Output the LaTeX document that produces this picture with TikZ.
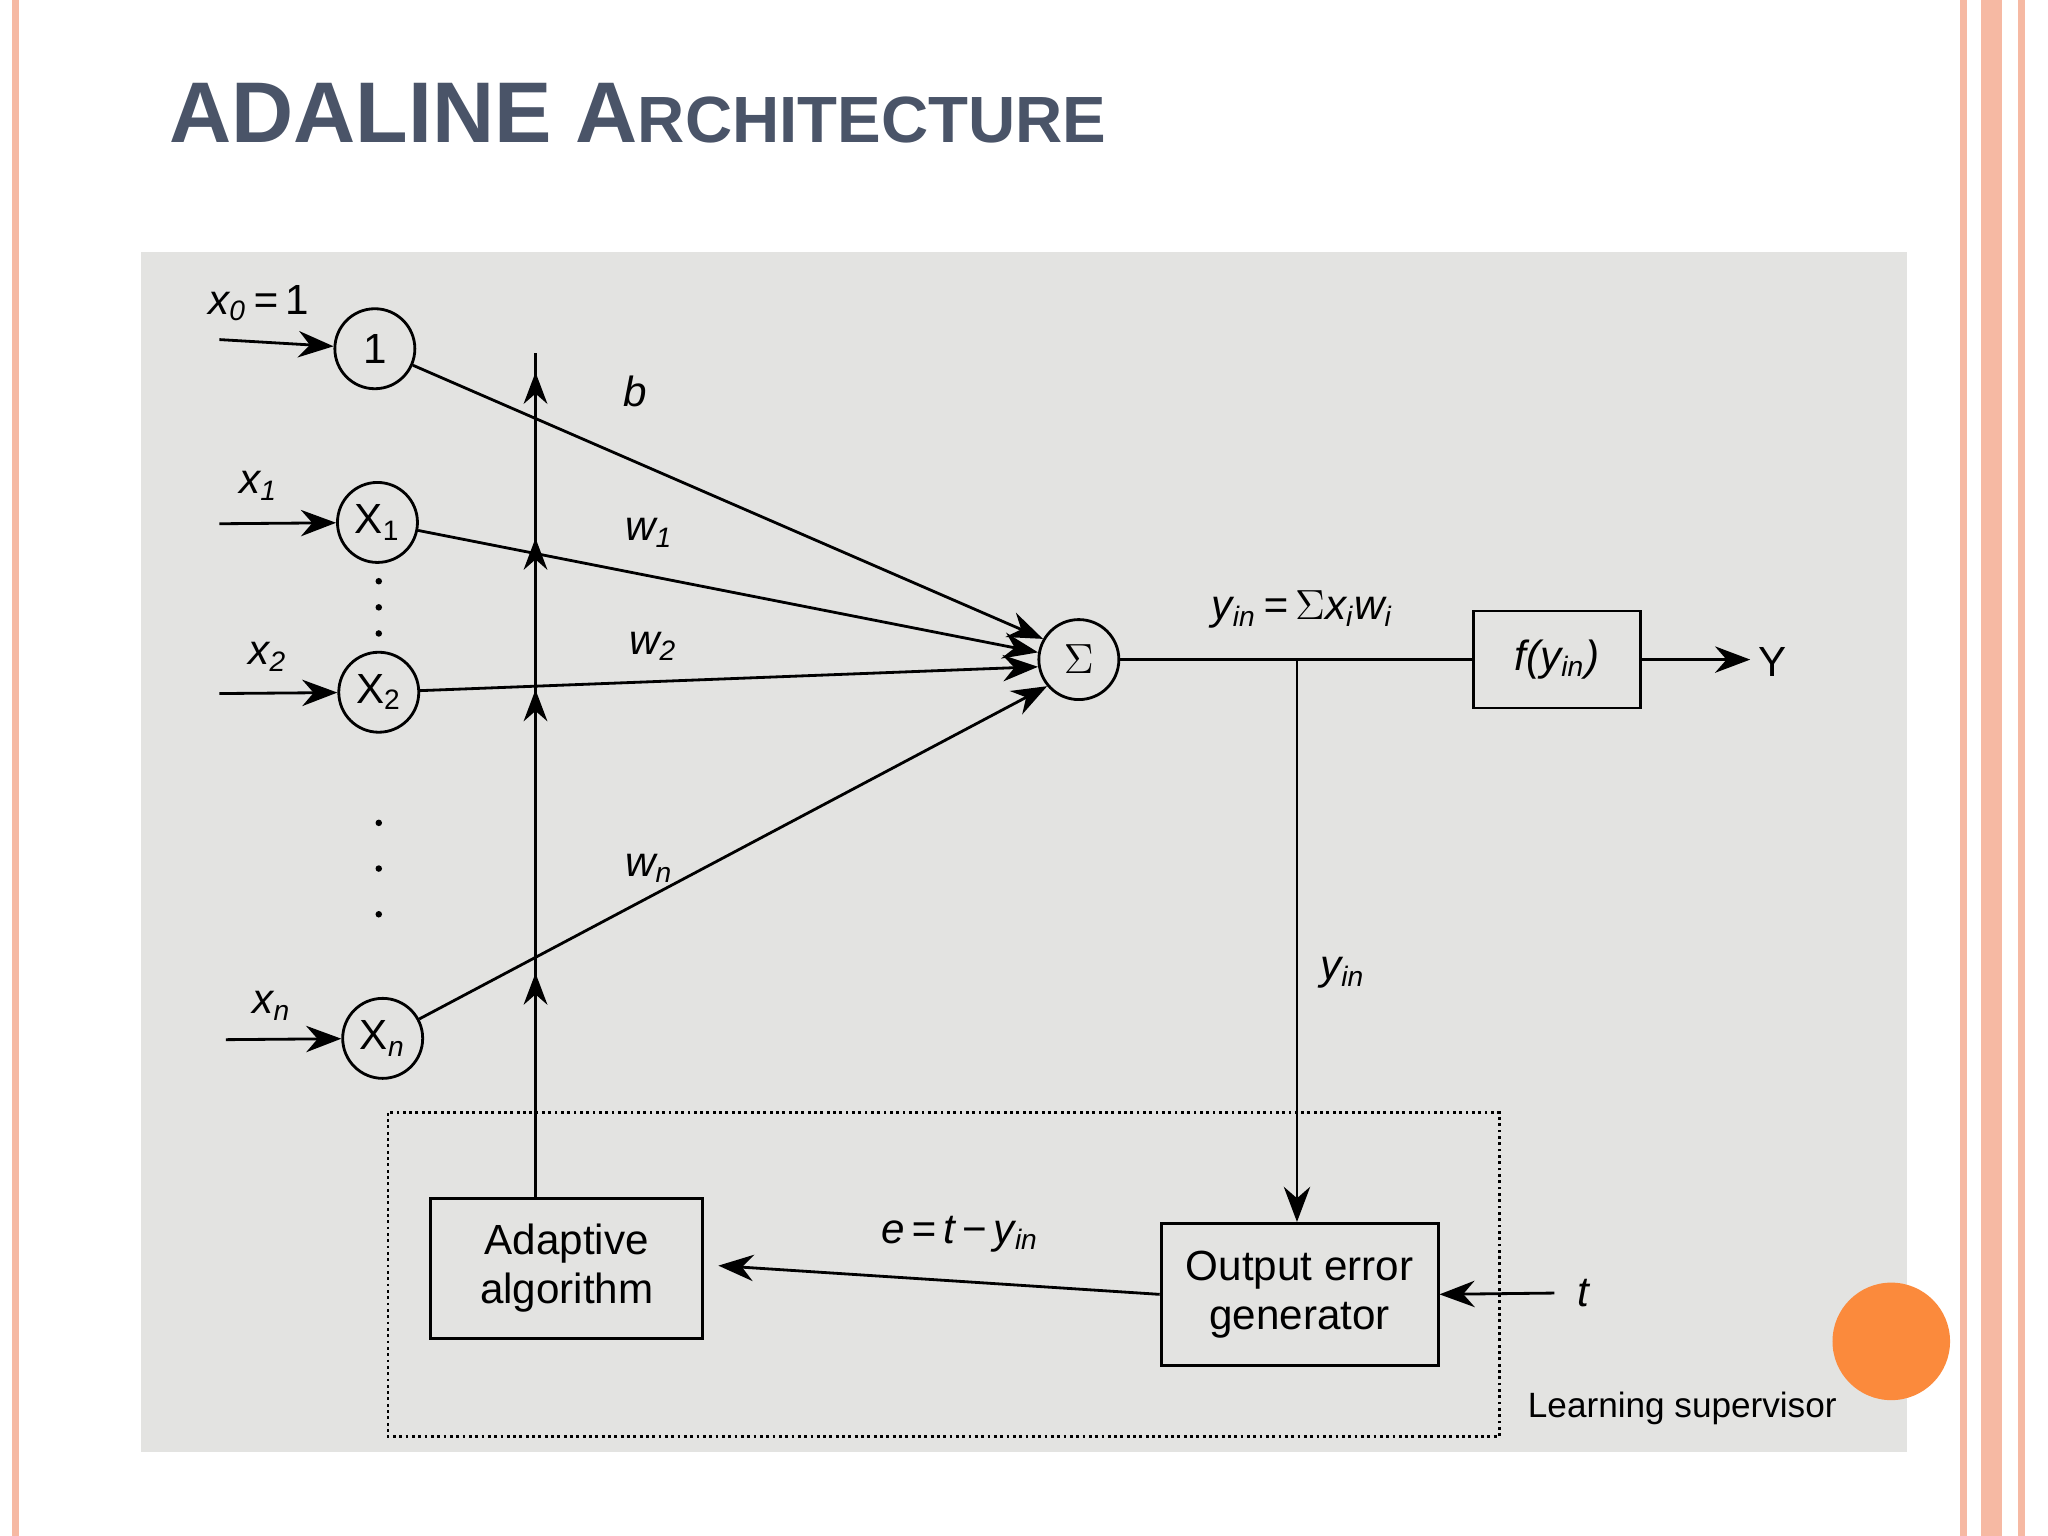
\documentclass[tikz,border=0pt]{standalone}
\usepackage{fontspec}
\setmainfont{Liberation Sans}
\usetikzlibrary{arrows.meta}
\definecolor{titlec}{HTML}{4A5468}
\definecolor{photo}{HTML}{E3E3E1}
\definecolor{peach}{HTML}{F6B9A3}
\definecolor{orng}{HTML}{FB8A3C}
\newcommand{\sbs}[1]{\textsubscript{#1}}
\begin{document}
\begin{tikzpicture}[x=0.01306cm,y=-0.01306cm,
 neuron/.style={draw,circle,thick,minimum size=0.8cm,inner sep=0pt,font=\large},
 blk/.style={draw,thick,font=\large,align=center,inner sep=2pt},
 lbl/.style={font=\large\itshape},
 arr/.style={thick,-{Stealth[length=10pt]}}]
\useasboundingbox (0,0) rectangle (1568,1176);
\fill[white] (0,0) rectangle (1568,1176);
\draw[peach,line width=2pt] (12,0) -- (12,1176);
\draw[peach,line width=2pt] (1503,0) -- (1503,1176);
\draw[peach,line width=6pt] (1525,0) -- (1525,1176);
\draw[peach,line width=2pt] (1548,0) -- (1548,1176);
\node[anchor=west,text=titlec,font=\bfseries] at (120,87) {\fontsize{24.5}{30}\selectfont ADALINE A\fontsize{18.6}{23}\selectfont RCHITECTURE};
\fill[photo] (108,193) rectangle (1460,1112);
\node[neuron] (n0) at (287,267) {1};
\node[neuron] (n1) at (289,400) {X\sbs{1}};
\node[neuron] (n2) at (290,530) {X\sbs{2}};
\node[neuron] (nn) at (293,795) {X\sbs{\itshape n}};
\node[neuron] (sig) at (826,505) {$\Sigma$};
\coordinate (i0) at (168,260); \coordinate (i1) at (168,401);
\coordinate (i2) at (168,531); \coordinate (in) at (173,796);
\draw[arr] (i0) -- (n0); \draw[arr] (i1) -- (n1);
\draw[arr] (i2) -- (n2); \draw[arr] (in) -- (nn);
\node[lbl] at (198,232) {x\sbs{0}\,=\,\upshape 1};
\node[lbl] at (198,372) {x\sbs{1}};
\node[lbl] at (205,503) {x\sbs{2}};
\node[lbl] at (208,770) {x\sbs{n}};
\foreach \y in {445,465,485,630,665,700} \fill (290,\y) circle (2.5);
\draw[arr] (n0) -- (sig.150);
\draw[arr] (n1) -- (sig.170);
\draw[arr] (n2) -- (sig.190);
\draw[arr] (nn) -- (sig.220);
\node[lbl] at (486,300) {b};
\node[lbl] at (497,408) {w\sbs{1}};
\node[lbl] at (500,495) {w\sbs{2}};
\node[lbl] at (497,665) {w\sbs{n}};
\node[blk,minimum width=2.72cm,minimum height=1.4cm] (ada) at (434,971) {Adaptive\\algorithm};
\node[blk,minimum width=2.77cm,minimum height=1.42cm] (oeg) at (995,991) {Output error\\generator};
\node[blk,minimum width=1.67cm,minimum height=0.97cm] (f) at (1192,505) {\itshape f(y\sbs{in})};
\coordinate (adtop) at (410,270);
\draw[thick] (ada.north -| adtop) -- (adtop);
\foreach \y in {285,412,528,745} \draw[thick,-{Stealth[length=9pt]}] (410,\y+12) -- (410,\y);
\coordinate (br) at (993,505);
\draw[thick] (sig) -- (f);
\draw[arr] (br) -- (br |- oeg.north);
\coordinate (Y) at (1340,505);
\draw[arr] (f) -- (Y);
\node[font=\large] at (1357,507) {Y};
\node[lbl] at (997,467) {y\sbs{in}\,=\,\upshape$\Sigma$\itshape x\sbs{i}w\sbs{i}};
\node[lbl] at (1028,745) {y\sbs{in}};
\coordinate (ea) at (550,969);
\draw[arr] (oeg.west) -- (ea);
\node[lbl] at (735,945) {e\,=\,t\,\upshape−\,\itshape y\sbs{in}};
\coordinate (t) at (1190,990);
\draw[arr] (t) -- (oeg.east);
\node[lbl,anchor=west] at (1198,990) {t};
\draw[thick,densely dotted] (297,852) rectangle (1148,1100);
\node[font=\normalsize] at (1288,1078) {Learning supervisor};
\fill[orng] (1448,1027) circle (45);
\end{tikzpicture}
\end{document}
